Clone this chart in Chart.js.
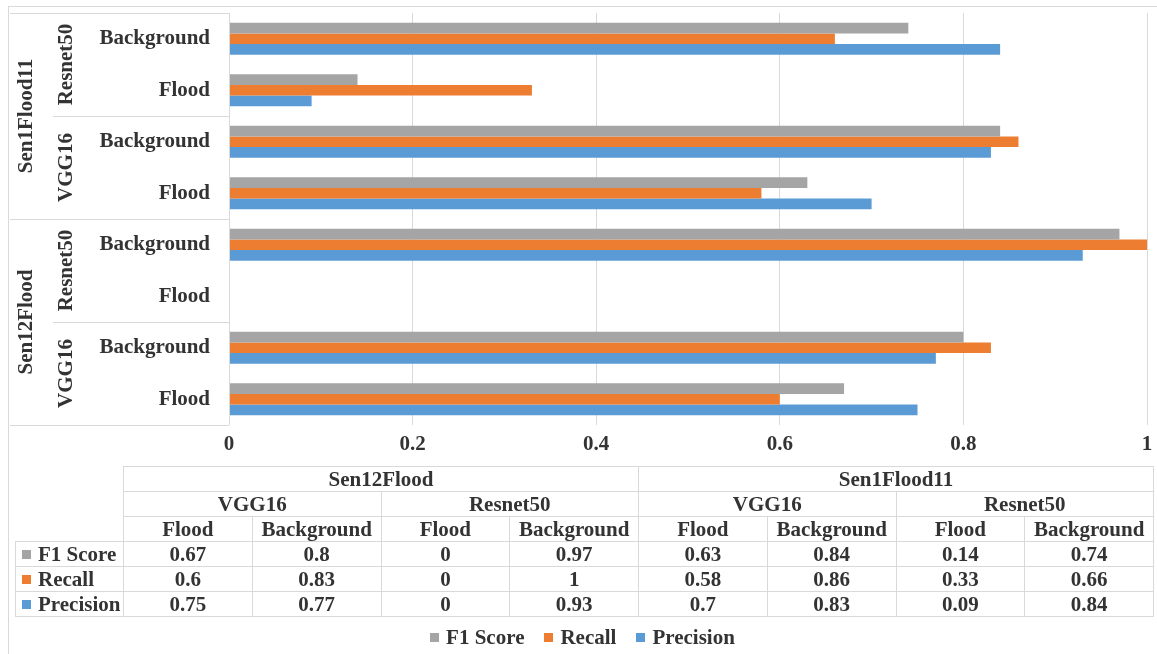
<!DOCTYPE html>
<html>
<head>
<meta charset="utf-8">
<script src="https://cdn.jsdelivr.net/npm/chart.js@4/dist/chart.umd.min.js"></script>
<style>
  body { margin: 0; background: #fff; }
  #wrap { position: relative; width: 1157px; height: 654px; overflow: hidden; font-family: "Liberation Serif", "Times New Roman", serif; font-weight: bold; color: #333; }
  #frame { position: absolute; left: 8px; top: 6px; width: 1160px; height: 660px; border-left: 1px solid #d9d9d9; border-top: 1px solid #d9d9d9; }
  canvas { position: absolute; left: 0; top: 0; }
  #dataTable { position: absolute; left: 15px; top: 466px; border-collapse: collapse; table-layout: fixed; font-size: 21px; }
  #dataTable td { border: 1px solid #d9d9d9; height: 24px; padding: 0; text-align: center; line-height: 24px; white-space: nowrap; }
  #dataTable td.blank { border: none; }
  #dataTable td.key { text-align: left; padding-left: 6px; }
  .sw { display: inline-block; width: 9px; height: 9px; margin-right: 7px; vertical-align: 2px; }
  #legend { position: absolute; top: 624px; left: 4px; width: 1157px; text-align: center; font-size: 21px; line-height: 26px; }
  #legend span.item { margin: 0 10px; }
</style>
</head>
<body>
<div id="wrap">
  <div id="frame"></div>
  <canvas id="myChart" width="1157" height="654"></canvas>
  <table id="dataTable"></table>
  <div id="legend"></div>
</div>
<script>
// categories, top to bottom as drawn
const classNames = ["Background", "Flood", "Background", "Flood", "Background", "Flood", "Background", "Flood"];
const modelNames = ["Resnet50", "Resnet50", "VGG16", "VGG16", "Resnet50", "Resnet50", "VGG16", "VGG16"];
const datasetNames = ["Sen1Flood11", "Sen1Flood11", "Sen1Flood11", "Sen1Flood11", "Sen12Flood", "Sen12Flood", "Sen12Flood", "Sen12Flood"];

// series values
const f1Score = [0.74, 0.14, 0.84, 0.63, 0.97, 0, 0.8, 0.67];
const recall = [0.66, 0.33, 0.86, 0.58, 1, 0, 0.83, 0.6];
const precision = [0.84, 0.09, 0.83, 0.7, 0.93, 0, 0.77, 0.75];

const xTicks = [0, 0.2, 0.4, 0.6, 0.8, 1];

const series = [
  {name: "F1 Score", values: f1Score, color: "#a5a5a5"},
  {name: "Recall", values: recall, color: "#ed7d31"},
  {name: "Precision", values: precision, color: "#5b9bd5"}
];

const lineColor = "#d9d9d9";
const textColor = "#333333";
const fontFamily = "'Liberation Serif', 'Times New Roman', serif";

// draws the grouped labels and the box lines on the left
const groupLabels = {
  id: "groupLabels",
  afterDraw(chart) {
    const ctx = chart.ctx;
    const area = chart.chartArea;
    const y = chart.scales.y;
    const n = classNames.length;
    const step = (y.getPixelForValue(1) - y.getPixelForValue(0));
    const edge = i => y.getPixelForValue(i) - step / 2;

    ctx.save();
    ctx.strokeStyle = lineColor;
    ctx.lineWidth = 1;
    const hline = (x0, yy) => {
      ctx.beginPath();
      ctx.moveTo(x0, Math.round(yy) + 0.5);
      ctx.lineTo(area.left, Math.round(yy) + 0.5);
      ctx.stroke();
    };
    hline(10, area.top);
    hline(10, area.bottom);
    ctx.beginPath();
    ctx.moveTo(Math.round(area.left) + 0.5, area.top);
    ctx.lineTo(Math.round(area.left) + 0.5, area.bottom);
    ctx.stroke();

    ctx.fillStyle = textColor;
    ctx.font = "bold 21px " + fontFamily;
    ctx.textAlign = "center";
    ctx.textBaseline = "middle";

    const drawRotated = (text, x, yy) => {
      ctx.save();
      ctx.translate(x, yy);
      ctx.rotate(-Math.PI / 2);
      ctx.fillText(text, 0, 0);
      ctx.restore();
    };

    // model level
    let start = 0;
    for (let i = 1; i <= n; i++) {
      if (i === n || modelNames[i] !== modelNames[start] || datasetNames[i] !== datasetNames[start]) {
        drawRotated(modelNames[start], 67, (edge(start) + edge(i)) / 2);
        if (i < n && datasetNames[i] === datasetNames[start]) hline(53, edge(i));
        start = i;
      }
    }
    // dataset level
    start = 0;
    for (let i = 1; i <= n; i++) {
      if (i === n || datasetNames[i] !== datasetNames[start]) {
        drawRotated(datasetNames[start], 27, (edge(start) + edge(i)) / 2);
        if (i < n) hline(10, edge(i));
        start = i;
      }
    }
    ctx.restore();
  }
};

const config = {
  type: "bar",
  data: {
    labels: classNames,
    datasets: series.map(s => ({
      label: s.name,
      data: s.values,
      backgroundColor: s.color,
      borderWidth: 0,
      barPercentage: 1,
      categoryPercentage: 0.62
    }))
  },
  options: {
    indexAxis: "y",
    responsive: false,
    animation: false,
    layout: {padding: {left: 10, top: 13, right: 10, bottom: 194}},
    plugins: {
      legend: {display: false},
      tooltip: {enabled: false}
    },
    scales: {
      x: {
        min: 0,
        max: 1,
        afterBuildTicks: scale => { scale.ticks = xTicks.map(v => ({value: v})); },
        afterFit: scale => { scale.height = 35; scale.paddingLeft = 0; scale.paddingRight = 0; },
        grid: {color: lineColor, drawTicks: false},
        border: {display: false},
        ticks: {
          color: textColor,
          padding: 7,
          font: {family: fontFamily, size: 21, weight: "bold"},
          callback: v => String(v)
        }
      },
      y: {
        afterFit: scale => { scale.width = 219; scale.paddingTop = 0; scale.paddingBottom = 0; },
        grid: {display: false, drawTicks: false},
        border: {display: false},
        ticks: {
          color: textColor,
          padding: 19,
          font: {family: fontFamily, size: 21, weight: "bold"}
        }
      }
    }
  },
  plugins: [groupLabels]
};

const myChart = new Chart(document.getElementById("myChart"), config);

// data table under the chart, built from the same arrays (reversed: bottom row first)
const order = classNames.map((_, i) => classNames.length - 1 - i);
const table = document.getElementById("dataTable");
let html = "<colgroup><col style='width:108px'>" + order.map(() => "<col style='width:128.75px'>").join("") + "</colgroup>";

const spanRow = (names, withModel) => {
  let row = "";
  let k = 0;
  while (k < order.length) {
    let j = k;
    while (j < order.length && names[order[j]] === names[order[k]] &&
           (!withModel || datasetNames[order[j]] === datasetNames[order[k]])) j++;
    row += "<td colspan='" + (j - k) + "'>" + names[order[k]] + "</td>";
    k = j;
  }
  return row;
};

html += "<tr><td class='blank' rowspan='3'></td>" + spanRow(datasetNames, false) + "</tr>";
html += "<tr>" + spanRow(modelNames, true) + "</tr>";
html += "<tr>" + order.map(i => "<td>" + classNames[i] + "</td>").join("") + "</tr>";
series.forEach(s => {
  html += "<tr><td class='key'><span class='sw' style='background:" + s.color + "'></span>" + s.name + "</td>" +
    order.map(i => "<td>" + s.values[i] + "</td>").join("") + "</tr>";
});
table.innerHTML = html;

document.getElementById("legend").innerHTML = series.map(s =>
  "<span class='item'><span class='sw' style='background:" + s.color + "'></span>" + s.name + "</span>").join("");
</script>
</body>
</html>
